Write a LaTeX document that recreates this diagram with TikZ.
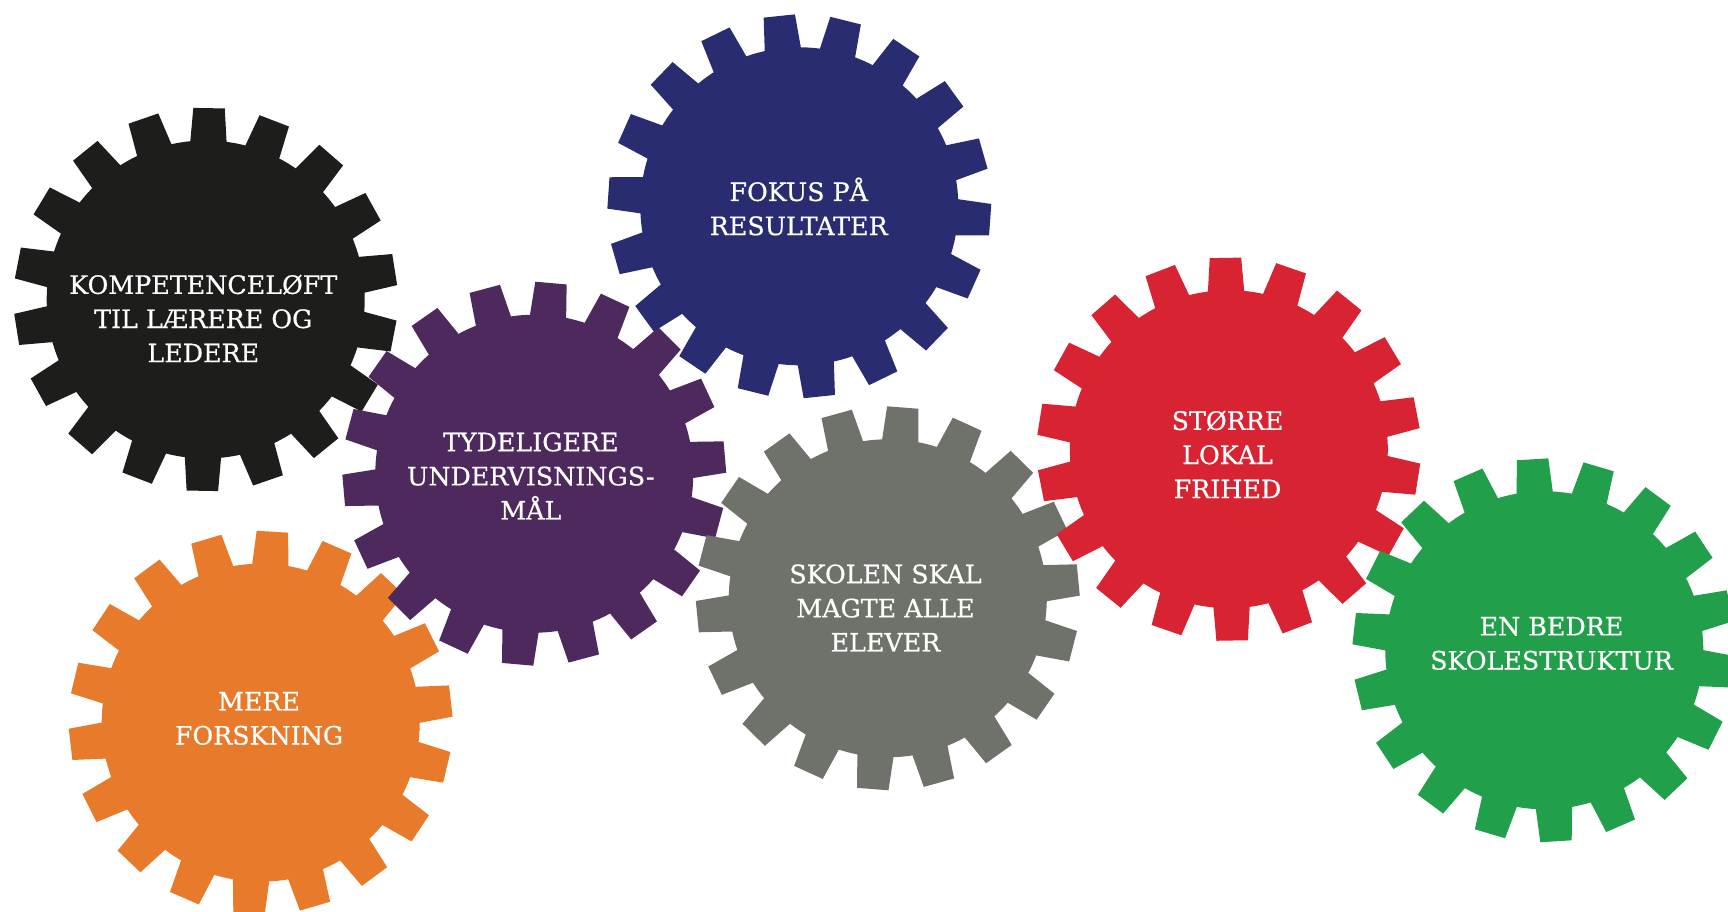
\documentclass[tikz,border=0pt]{standalone}
\usepackage{fontspec}
\usepackage{xcolor}
\usepackage{tikz}
\newfontfamily\gearfont[FakeBold=0.6]{DejaVu Serif}
\definecolor{gearblack}{HTML}{1D1D1B}
\definecolor{gearnavy}{HTML}{2A2C72}
\definecolor{gearpurple}{HTML}{4E295E}
\definecolor{gearorange}{HTML}{E87B2B}
\definecolor{geargray}{HTML}{6E726A}
\definecolor{gearred}{HTML}{D82332}
\definecolor{geargreen}{HTML}{219F4A}
\tikzset{geartext/.style={text=white,align=center,inner sep=0pt,yshift=-.7pt,font=\gearfont\fontsize{19}{25.6}\selectfont}}
% center x, center y, angle of the first tooth, colour
\newcommand{\gear}[4]{%
    \fill[#4] (#1,#2) circle (159);
    \foreach \a in {0,20,...,340}
        \fill[#4,shift={(#1,#2)}] (#3+\a-7.2:150) -- (#3+\a-4.7:192) -- (#3+\a+4.7:192) -- (#3+\a+7.2:150) -- cycle;
}

\begin{document}
\begin{tikzpicture}[x=.75pt,y=-.75pt]
    \useasboundingbox (0,0) rectangle (1728,912);

    % Left column
    \gear{205.7}{299.5}{11}{gearblack}
    \node[geartext] (kompetence) at (203.3,317.5) {KOMPETENCELØFT\\TIL LÆRERE OG\\LEDERE};

    \gear{260.7}{722.7}{13.5}{gearorange}
    \node[geartext] (forskning) at (259,717.5) {MERE\\FORSKNING};

    % Middle
    \gear{534.3}{473.7}{15}{gearpurple}
    \node[geartext] (tydeligere) at (530.8,475) {TYDELIGERE\\UNDERVISNINGS-\\MÅL};

    \gear{799.3}{206.3}{4}{gearnavy}
    \node[geartext] (fokus) at (798.7,205.5) {FOKUS PÅ\\RESULTATER};

    \gear{887.8}{598.3}{14.5}{geargray}
    \node[geartext] (skolen) at (885.5,607) {SKOLEN SKAL\\MAGTE ALLE\\ELEVER};

    % Right side
    \gear{1228.8}{449.2}{9}{gearred}
    \node[geartext] (frihed) at (1227.5,453.5) {STØRRE\\LOKAL\\FRIHED};

    \gear{1544.3}{650.3}{6.5}{geargreen}
    \node[geartext] (struktur) at (1551.5,642.5) {EN BEDRE\\SKOLESTRUKTUR};
\end{tikzpicture}
\end{document}
